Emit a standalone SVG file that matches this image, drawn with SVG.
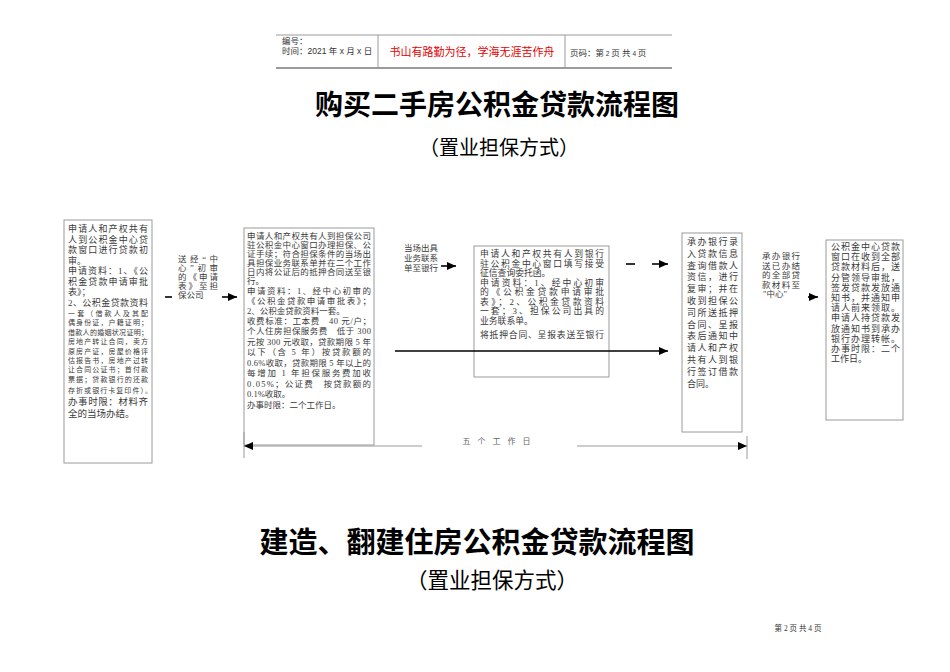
<svg xmlns="http://www.w3.org/2000/svg" width="950" height="672" viewBox="0 0 950 672">
<style>
.bx{fill:#fff;stroke:#9a9a9a;stroke-width:1}
.t{font-family:"Liberation Serif","Noto Sans CJK SC",serif;fill:#3a3a3a}
.h{font-family:"Liberation Sans","Noto Sans CJK SC",sans-serif;fill:#333;font-size:8.5px}
.ttl{font-family:"Noto Sans CJK SC",sans-serif;font-weight:bold;fill:#000;text-anchor:middle}
.sub{font-family:"Noto Sans CJK SC",sans-serif;fill:#000;text-anchor:middle}
.ln{stroke:#000;stroke-width:1.6;fill:none}
.hl{stroke:#9a9a9a;fill:none}
</style>
<defs>
<marker id="ah" markerUnits="userSpaceOnUse" markerWidth="10" markerHeight="8" refX="9" refY="4" orient="auto-start-reverse">
<path d="M0,0 L9,4 L0,8 z" fill="#000"/>
</marker>
</defs>

<g id="header">
<line class="hl" x1="276" y1="35" x2="672" y2="35" stroke-width="1"/>
<line class="hl" x1="276" y1="68" x2="672" y2="68" stroke-width="2"/>
<line class="hl" x1="378" y1="35" x2="378" y2="68"/>
<line class="hl" x1="565" y1="35" x2="565" y2="68"/>
<text class="h" x="282" y="44">编号：</text>
<text class="h" x="282" y="54">时间：2021 年 x 月 x 日</text>
<text x="472" y="56" text-anchor="middle" style="font-family:'Noto Sans CJK SC',sans-serif;font-size:11px;fill:#e60000">书山有路勤为径，学海无涯苦作舟</text>
<text class="h" x="570" y="56">页码：第<tspan style="font-size:6.5px"> 2 </tspan>页 共<tspan style="font-size:6.5px"> 4 </tspan>页</text>
</g>

<text class="ttl" x="497" y="115" style="font-size:28px">购买二手房公积金贷款流程图</text>
<text class="sub" x="499" y="155" style="font-size:20px">（置业担保方式）</text>

<g id="box1">
<rect class="bx" x="64" y="220" width="88" height="243"/>
<g class="t" style="font-size:9px">
<text x="68" y="232" textLength="80" lengthAdjust="spacing">申请人和产权共有</text>
<text x="68" y="242.5" textLength="80" lengthAdjust="spacing">人到公积金中心贷</text>
<text x="68" y="253" textLength="80" lengthAdjust="spacing">款窗口进行贷款初</text>
<text x="68" y="263.5">审。</text>
<text x="68" y="274" textLength="80" lengthAdjust="spacing">申请资料：1、《公</text>
<text x="68" y="284.5" textLength="80" lengthAdjust="spacing">积金贷款申请审批</text>
<text x="68" y="295">表》；</text>
<text x="68" y="305.5" textLength="80" lengthAdjust="spacing">2、公积金贷款资料</text>
</g>
<g class="t" style="font-size:7px">
<text x="68" y="316" textLength="80" lengthAdjust="spacing">一套（借款人及其配</text>
<text x="68" y="325.4" textLength="80" lengthAdjust="spacing">偶身份证，户籍证明；</text>
<text x="68" y="334.8" textLength="80" lengthAdjust="spacing">借款人的婚姻状况证明；</text>
<text x="68" y="344.2" textLength="80" lengthAdjust="spacing">房地产转让合同，卖方</text>
<text x="68" y="353.6" textLength="80" lengthAdjust="spacing">原房产证，房屋价格评</text>
<text x="68" y="363" textLength="80" lengthAdjust="spacing">估报告书，房地产过转</text>
<text x="68" y="372.4" textLength="80" lengthAdjust="spacing">让合同公证书；首付款</text>
<text x="68" y="381.8" textLength="80" lengthAdjust="spacing">票据；贷款银行的还款</text>
<text x="68" y="393" textLength="84" lengthAdjust="spacing">存折或银行卡复印件）。</text>
</g>
<g class="t" style="font-size:9.5px">
<text x="68" y="405" textLength="80" lengthAdjust="spacing">办事时限：材料齐</text>
<text x="68" y="416.5">全的当场办结。</text>
</g>
</g>

<g id="label1" class="t" style="font-size:8.5px">
<text x="178" y="262" textLength="40" lengthAdjust="spacing">送经“中</text>
<text x="178" y="271" textLength="40" lengthAdjust="spacing">心”初审</text>
<text x="178" y="280" textLength="40" lengthAdjust="spacing">的《申请</text>
<text x="178" y="289" textLength="40" lengthAdjust="spacing">表》至担</text>
<text x="178" y="298">保公司</text>
</g>

<g id="box2">
<rect class="bx" x="244" y="228" width="130" height="217"/>
<g class="t" style="font-size:8.5px">
<text x="247" y="239" textLength="124" lengthAdjust="spacing">申请人和产权共有人到担保公司</text>
<text x="247" y="248" textLength="124" lengthAdjust="spacing">驻公积金中心窗口办理担保、公</text>
<text x="247" y="257" textLength="124" lengthAdjust="spacing">证手续；符合担保条件的当场出</text>
<text x="247" y="266" textLength="124" lengthAdjust="spacing">具担保业务联系单并在二个工作</text>
<text x="247" y="275" textLength="124" lengthAdjust="spacing">日内将公证后的抵押合同送至银</text>
<text x="247" y="284">行。</text>
<text x="247" y="294" textLength="124" lengthAdjust="spacing">申请资料：1、经中心初审的</text>
<text x="247" y="304" textLength="124" lengthAdjust="spacing">《公积金贷款申请审批表》；</text>
<text x="247" y="314">2、公积金贷款资料一套。</text>
<text x="247" y="324" textLength="124" lengthAdjust="spacing">收费标准：工本费　40 元/户；</text>
<text x="247" y="334" textLength="124" lengthAdjust="spacing">个人住房担保服务费　低于 300</text>
<text x="247" y="344.5" textLength="124" lengthAdjust="spacing">元按 300 元收取，贷款期限 5 年</text>
<text x="247" y="355" textLength="124" lengthAdjust="spacing">以下（含 5 年）按贷款额的</text>
<text x="247" y="365.5" textLength="124" lengthAdjust="spacing">0.6%收取，贷款期限 5 年以上的</text>
<text x="247" y="376" textLength="124" lengthAdjust="spacing">每增加 1 年担保服务费加收</text>
<text x="247" y="386.5" textLength="124" lengthAdjust="spacing">0.05%；公证费　按贷款额的</text>
<text x="247" y="397">0.1%收取。</text>
<text x="247" y="407.5">办事时限：二个工作日。</text>
</g>
</g>

<g id="label2" class="t" style="font-size:8.5px">
<text x="404" y="251">当场出具</text>
<text x="404" y="261">业务联系</text>
<text x="404" y="271">单至银行</text>
</g>

<g id="box3">
<rect class="bx" x="474" y="246" width="135" height="131"/>
<g class="t" style="font-size:8.8px">
<text x="480" y="257" textLength="124" lengthAdjust="spacing">申请人和产权共有人到银行</text>
<text x="480" y="266.5" textLength="124" lengthAdjust="spacing">驻公积金中心窗口填写接受</text>
<text x="480" y="276">征信查询委托函。</text>
<text x="480" y="285.5" textLength="124" lengthAdjust="spacing">申请资料：1、经中心初审</text>
<text x="480" y="295" textLength="124" lengthAdjust="spacing">的《公积金贷款申请审批</text>
<text x="480" y="304.5" textLength="124" lengthAdjust="spacing">表》；2、公积金贷款资料</text>
<text x="480" y="314" textLength="124" lengthAdjust="spacing">一套；3、担保公司出具的</text>
<text x="480" y="323.5">业务联系单。</text>
<text x="480" y="338" textLength="124" lengthAdjust="spacing">将抵押合同、呈报表送至银行</text>
</g>
</g>

<g id="box4">
<rect class="bx" x="682" y="233" width="60" height="199"/>
<g class="t" style="font-size:9px">
<text x="687" y="245" textLength="51" lengthAdjust="spacing">承办银行录</text>
<text x="687" y="256.8" textLength="51" lengthAdjust="spacing">入贷款信息</text>
<text x="687" y="268.6" textLength="51" lengthAdjust="spacing">查询借款人</text>
<text x="687" y="280.4" textLength="51" lengthAdjust="spacing">资信，进行</text>
<text x="687" y="292.2" textLength="51" lengthAdjust="spacing">复审；并在</text>
<text x="687" y="304" textLength="51" lengthAdjust="spacing">收到担保公</text>
<text x="687" y="315.8" textLength="51" lengthAdjust="spacing">司所送抵押</text>
<text x="687" y="327.6" textLength="51" lengthAdjust="spacing">合同、呈报</text>
<text x="687" y="339.4" textLength="51" lengthAdjust="spacing">表后通知中</text>
<text x="687" y="351.2" textLength="51" lengthAdjust="spacing">请人和产权</text>
<text x="687" y="363" textLength="51" lengthAdjust="spacing">共有人到银</text>
<text x="687" y="374.8" textLength="51" lengthAdjust="spacing">行签订借款</text>
<text x="687" y="386.6">合同。</text>
</g>
</g>

<g id="label3" class="t" style="font-size:8.5px">
<text x="762" y="259" textLength="38" lengthAdjust="spacing">承办银行</text>
<text x="762" y="268.5" textLength="38" lengthAdjust="spacing">送已办结</text>
<text x="762" y="278" textLength="38" lengthAdjust="spacing">的全部贷</text>
<text x="762" y="287.5" textLength="38" lengthAdjust="spacing">款材料至</text>
<text x="763" y="297">"中心"</text>
</g>

<g id="box5">
<rect class="bx" x="826" y="240" width="77" height="180"/>
<g class="t" style="font-size:9px">
<text x="831" y="250" textLength="69" lengthAdjust="spacing">公积金中心贷款</text>
<text x="831" y="260.2" textLength="69" lengthAdjust="spacing">窗口在收到全部</text>
<text x="831" y="270.4" textLength="69" lengthAdjust="spacing">贷款材料后，送</text>
<text x="831" y="280.6" textLength="69" lengthAdjust="spacing">分管领导审批，</text>
<text x="831" y="290.8" textLength="69" lengthAdjust="spacing">签发贷款发放通</text>
<text x="831" y="301" textLength="69" lengthAdjust="spacing">知书，并通知申</text>
<text x="831" y="311.2" textLength="69" lengthAdjust="spacing">请人前来领取。</text>
<text x="831" y="321.4" textLength="69" lengthAdjust="spacing">申请人持贷款发</text>
<text x="831" y="331.6" textLength="69" lengthAdjust="spacing">放通知书到承办</text>
<text x="831" y="341.8" textLength="69" lengthAdjust="spacing">银行办理转帐。</text>
<text x="831" y="352" textLength="69" lengthAdjust="spacing">办事时限：二个</text>
<text x="831" y="362.2">工作日。</text>
</g>
</g>

<g id="connectors">
<line class="ln" x1="165" y1="297" x2="172" y2="297"/>
<line class="ln" x1="222" y1="297" x2="237" y2="297" marker-end="url(#ah)"/>
<line class="ln" x1="441" y1="266" x2="456" y2="266" marker-end="url(#ah)"/>
<line class="ln" x1="626" y1="264" x2="635" y2="264"/>
<line class="ln" x1="652" y1="264" x2="668" y2="264" marker-end="url(#ah)"/>
<line class="ln" x1="395" y1="351" x2="668" y2="351" marker-end="url(#ah)"/>
<line class="ln" x1="808" y1="297" x2="818" y2="297" marker-end="url(#ah)"/>
<line class="hl" x1="244" y1="432" x2="244" y2="458"/>
<line class="hl" x1="747" y1="436" x2="747" y2="459"/>
<line stroke="#9a9a9a" stroke-width="1.2" x1="244" y1="446" x2="422" y2="446" marker-start="url(#ah)"/>
<line stroke="#9a9a9a" stroke-width="1.2" x1="577" y1="446" x2="747" y2="446" marker-end="url(#ah)"/>
<text x="500" y="444" text-anchor="middle" style="font-family:'Noto Sans CJK SC',sans-serif;font-size:8px;fill:#666;letter-spacing:7px">五个工作日</text>
</g>

<text class="ttl" x="477" y="553" style="font-size:29px">建造、翻建住房公积金贷款流程图</text>
<text class="sub" x="492" y="588" style="font-size:21.5px">（置业担保方式）</text>
<text x="798" y="631" text-anchor="middle" style="font-family:'Liberation Serif','Noto Sans CJK SC',serif;font-size:7.5px;fill:#333">第 2 页 共 4 页</text>
</svg>
